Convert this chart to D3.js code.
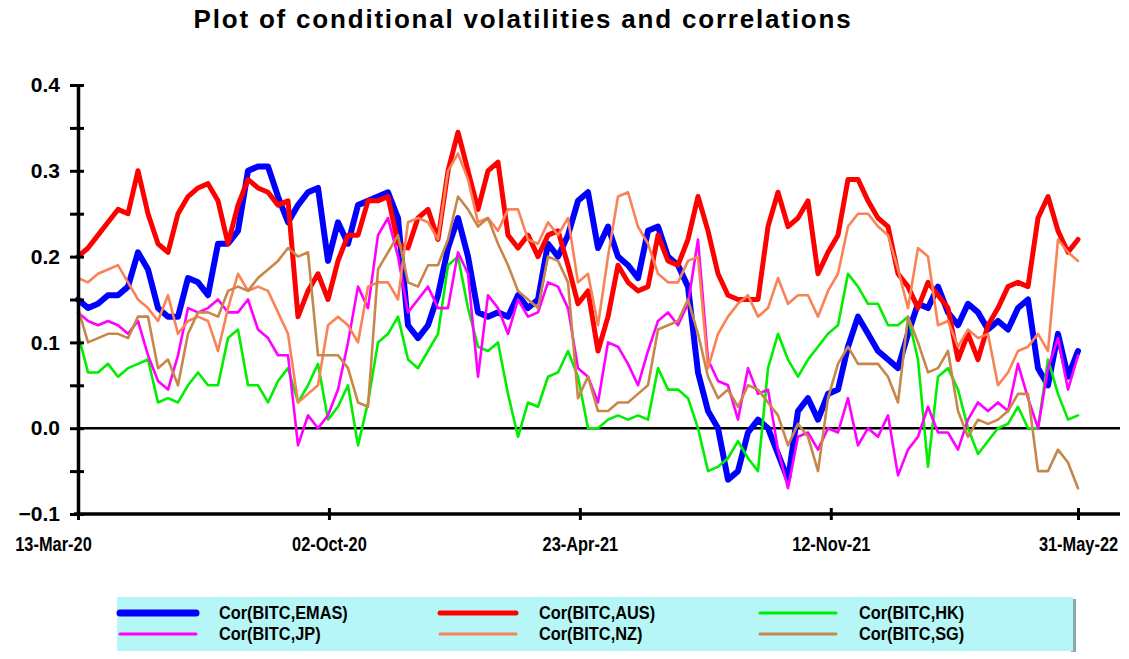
<!DOCTYPE html>
<html>
<head>
<meta charset="UTF-8">
<title>Plot of conditional volatilities and correlations</title>
<script src="https://cdn.jsdelivr.net/npm/d3@7"></script>
<style>
  body { margin: 0; background: #fff; }
  svg { display: block; }
</style>
</head>
<body>
<div id="container"></div>
<script>
// first and last observation, series sampled evenly between them
const startDate = "13-Mar-20";
const endDate = "31-May-22";
const tickLabels = ["13-Mar-20", "02-Oct-20", "23-Apr-21", "12-Nov-21", "31-May-22"];
const yTicks = [-0.1, 0.0, 0.1, 0.2, 0.3, 0.4];

const emas = [0.15,0.14,0.145,0.155,0.155,0.165,0.205,0.185,0.14,0.13,0.13,0.175,0.17,0.155,0.215,0.215,0.23,0.30,
  0.305,0.305,0.27,0.24,0.26,0.275,0.28,0.195,0.24,0.215,0.26,0.265,0.27,0.275,0.245,0.12,0.105,
  0.12,0.155,0.21,0.245,0.20,0.135,0.13,0.135,0.13,0.155,0.14,0.15,0.215,0.20,0.225,0.265,0.275,
  0.21,0.235,0.20,0.19,0.175,0.23,0.235,0.20,0.19,0.165,0.065,0.02,0.0,-0.06,-0.05,-0.005,
  0.01,0.0,-0.03,-0.06,0.02,0.035,0.01,0.04,0.045,0.095,0.13,0.11,0.09,0.08,0.07,0.11,0.145,0.14,
  0.165,0.135,0.12,0.145,0.135,0.115,0.125,0.115,0.14,0.15,0.07,0.05,0.11,0.06,0.09];
const aus = [0.20,0.21,0.225,0.24,0.255,0.25,0.30,0.25,0.215,0.205,0.25,0.27,0.28,0.285,0.265,0.215,0.26,0.29,
  0.28,0.275,0.26,0.265,0.13,0.16,0.18,0.15,0.195,0.225,0.225,0.265,0.265,0.27,0.215,0.21,0.245,
  0.255,0.22,0.30,0.345,0.30,0.255,0.30,0.31,0.225,0.21,0.225,0.20,0.225,0.23,0.19,0.145,0.16,
  0.09,0.13,0.19,0.17,0.16,0.165,0.225,0.195,0.19,0.22,0.27,0.23,0.18,0.155,0.15,0.15,
  0.15,0.235,0.275,0.235,0.245,0.265,0.18,0.205,0.225,0.29,0.29,0.265,0.245,0.235,0.18,0.165,0.14,0.17,
  0.155,0.14,0.08,0.11,0.08,0.12,0.14,0.165,0.17,0.165,0.245,0.27,0.23,0.205,0.22];
const hk = [0.11,0.065,0.065,0.075,0.06,0.07,0.075,0.08,0.03,0.035,0.03,0.05,0.065,0.05,0.05,0.105,0.115,0.05,
  0.05,0.03,0.055,0.07,0.03,0.05,0.075,0.01,0.025,0.05,-0.02,0.03,0.10,0.11,0.13,0.08,0.07,
  0.09,0.11,0.19,0.20,0.14,0.095,0.09,0.10,0.04,-0.01,0.03,0.025,0.06,0.065,0.09,0.06,0.0,
  0.0,0.01,0.015,0.01,0.015,0.01,0.07,0.045,0.045,0.035,0.0,-0.05,-0.045,-0.035,-0.015,-0.035,
  -0.05,0.07,0.11,0.08,0.06,0.08,0.095,0.11,0.12,0.18,0.165,0.145,0.145,0.12,0.12,0.13,0.08,-0.045,
  0.06,0.07,0.045,0.0,-0.03,-0.015,0.0,0.005,0.025,0.0,0.0,0.08,0.04,0.01,0.015];
const jp = [0.135,0.125,0.12,0.125,0.12,0.11,0.125,0.085,0.055,0.045,0.085,0.14,0.135,0.14,0.15,0.135,0.135,0.15,
  0.115,0.105,0.085,0.085,-0.02,0.015,0.0,0.015,0.045,0.10,0.165,0.14,0.225,0.245,0.20,0.135,0.15,
  0.165,0.14,0.14,0.205,0.18,0.06,0.155,0.14,0.11,0.15,0.13,0.135,0.17,0.165,0.14,0.07,0.06,
  0.03,0.10,0.095,0.075,0.05,0.09,0.125,0.135,0.12,0.145,0.22,0.08,0.055,0.05,0.01,0.07,
  0.04,0.045,-0.025,-0.07,-0.01,-0.005,-0.025,0.0,-0.005,0.035,-0.02,0.0,-0.01,0.015,-0.055,-0.025,-0.01,0.025,
  -0.005,-0.005,-0.025,0.01,0.03,0.02,0.03,0.02,0.075,0.035,0.0,0.07,0.105,0.045,0.085];
const nz = [0.175,0.17,0.18,0.185,0.19,0.17,0.15,0.14,0.125,0.155,0.11,0.125,0.13,0.125,0.09,0.14,0.18,0.16,
  0.165,0.16,0.135,0.11,0.03,0.04,0.05,0.12,0.13,0.12,0.10,0.165,0.17,0.17,0.15,0.24,0.245,
  0.24,0.22,0.30,0.32,0.29,0.24,0.245,0.23,0.255,0.255,0.22,0.215,0.24,0.225,0.245,0.17,0.18,
  0.12,0.2,0.27,0.275,0.235,0.215,0.18,0.17,0.17,0.195,0.2,0.07,0.11,0.13,0.145,0.155,
  0.13,0.14,0.175,0.145,0.155,0.155,0.13,0.16,0.18,0.235,0.25,0.25,0.235,0.225,0.185,0.14,0.21,0.2,
  0.12,0.125,0.095,0.115,0.105,0.11,0.05,0.065,0.09,0.095,0.11,0.09,0.22,0.205,0.195];
const sg = [0.14,0.10,0.105,0.11,0.11,0.105,0.13,0.13,0.07,0.08,0.05,0.11,0.135,0.135,0.13,0.16,0.165,0.16,
  0.175,0.185,0.195,0.21,0.2,0.205,0.085,0.085,0.085,0.07,0.03,0.025,0.185,0.205,0.225,0.17,0.165,
  0.19,0.19,0.22,0.27,0.255,0.235,0.245,0.215,0.19,0.16,0.15,0.14,0.20,0.195,0.17,0.035,0.06,
  0.02,0.02,0.03,0.03,0.04,0.05,0.115,0.12,0.125,0.15,0.11,0.06,0.035,0.045,0.025,0.05,
  0.045,0.03,0.015,-0.02,0.005,-0.01,-0.05,0.035,0.075,0.095,0.075,0.075,0.075,0.06,0.03,0.13,0.10,0.065,
  0.07,0.09,0.02,-0.01,0.01,0.005,0.01,0.02,0.04,0.04,-0.05,-0.05,-0.025,-0.04,-0.07];

const seriesNames = ["Cor(BITC,EMAS)", "Cor(BITC,AUS)", "Cor(BITC,HK)", "Cor(BITC,JP)", "Cor(BITC,NZ)", "Cor(BITC,SG)"];
const seriesValues = [emas, aus, hk, jp, nz, sg];

// styles
const colors = ["#0000ff", "#ff0000", "#00ee00", "#ff00ff", "#f98356", "#c7874a"];
const widths = [6, 5, 2.6, 2.6, 2.6, 2.6];
const legendWidths = [7, 5, 3, 3, 3, 3];

const width = 1129, height = 659;
const plotLeft = 78, plotRight = 1120, plotTop = 85, plotBottom = 514;

const parse = d3.timeParse("%d-%b-%y");
const fmt = d3.timeFormat("%d-%b-%y");
const t0 = parse(startDate), t1 = parse(endDate);
const n = emas.length;
const dates = d3.range(n).map(i => new Date(+t0 + (t1 - t0) * i / (n - 1)));

const x = d3.scaleTime().domain([t0, t1]).range([plotLeft, 1078]);
const y = d3.scaleLinear().domain([-0.1, 0.4]).range([plotBottom, plotTop]);

const svg = d3.select("#container").append("svg")
  .attr("width", width).attr("height", height)
  .attr("viewBox", [0, 0, width, height]);

svg.append("rect").attr("width", width).attr("height", height).attr("fill", "#fff");

svg.append("text")
  .attr("x", 523).attr("y", 28)
  .attr("text-anchor", "middle")
  .attr("font-family", "Liberation Sans, Arial, sans-serif")
  .attr("font-weight", "bold").attr("font-size", 26)
  .attr("letter-spacing", 1.8)
  .text("Plot of conditional volatilities and correlations");

// zero line
svg.append("line")
  .attr("x1", plotLeft).attr("x2", plotRight)
  .attr("y1", y(0)).attr("y2", y(0))
  .attr("stroke", "#000").attr("stroke-width", 2.5);

// series
const line = d3.line().x((d, i) => x(dates[i])).y(d => y(d));
svg.append("g").selectAll("path")
  .data(seriesValues)
  .join("path")
  .attr("d", line)
  .attr("fill", "none")
  .attr("stroke", (d, i) => colors[i])
  .attr("stroke-width", (d, i) => widths[i])
  .attr("stroke-linejoin", "round")
  .attr("stroke-linecap", "round");

// y axis: ticks cross the axis line
const minorY = d3.range(-0.1, 0.4001, 0.05);
const yAxisG = svg.append("g").attr("transform", `translate(${plotLeft},0)`)
  .call(d3.axisLeft(y).tickValues(minorY).tickSizeInner(8).tickSizeOuter(0)
    .tickFormat(d => yTicks.some(v => Math.abs(v - d) < 1e-9) ? d3.format(".1f")(d) : ""));
svg.append("g").attr("transform", `translate(${plotLeft},0)`)
  .call(d3.axisRight(y).tickValues(minorY).tickSizeInner(6).tickSizeOuter(0).tickFormat(""))
  .call(g => g.select(".domain").remove());
yAxisG.select(".domain").attr("stroke-width", 3.5);
yAxisG.selectAll(".tick text")
  .attr("x", -18)
  .attr("font-family", "Liberation Sans, Arial, sans-serif")
  .attr("font-weight", "bold").attr("font-size", 21);

// x axis, condensed bold labels (first one pulled left like the original)
const xTickDates = tickLabels.map(parse);
const xAxisG = svg.append("g").attr("transform", `translate(0,${plotBottom})`)
  .call(d3.axisBottom(x).tickValues(xTickDates).tickFormat(fmt).tickSizeInner(6).tickSizeOuter(0));
svg.append("g").attr("transform", `translate(0,${plotBottom})`)
  .call(d3.axisTop(x).tickValues(xTickDates).tickSizeInner(6).tickSizeOuter(0).tickFormat(""))
  .call(g => g.select(".domain").remove());
xAxisG.select(".domain").attr("d", `M${plotLeft - 4},0H${plotRight}`).attr("stroke-width", 3.5);
xAxisG.selectAll(".tick text")
  .attr("y", 23)
  .attr("transform", (d, i) => `translate(${i === 0 ? -25 : 0},0) scale(0.82,1)`)
  .attr("font-family", "Liberation Sans, Arial, sans-serif")
  .attr("font-weight", "bold").attr("font-size", 20);
svg.selectAll(".tick line").attr("stroke-width", 3);

// legend
const lg = svg.append("g");
lg.append("rect").attr("x", 1071).attr("y", 599).attr("width", 5).attr("height", 53).attr("fill", "#8aa");
lg.append("rect")
  .attr("x", 117).attr("y", 597).attr("width", 956).attr("height", 54)
  .attr("fill", "#b6f6f6");
const colX = [120, 440, 760];
const rowY = [613, 634];
const items = lg.selectAll("g.item").data(seriesNames).join("g")
  .attr("transform", (d, i) => `translate(${colX[i % 3]},${rowY[Math.floor(i / 3)]})`);
items.append("line")
  .attr("x1", 0).attr("x2", 76)
  .attr("stroke", (d, i) => colors[i])
  .attr("stroke-width", (d, i) => legendWidths[i])
  .attr("stroke-linecap", "round");
items.append("text")
  .attr("transform", "translate(99,6) scale(0.86,1)")
  .attr("font-family", "Liberation Sans, Arial, sans-serif")
  .attr("font-weight", "bold").attr("font-size", 19)
  .text(d => d);
</script>
</body>
</html>
